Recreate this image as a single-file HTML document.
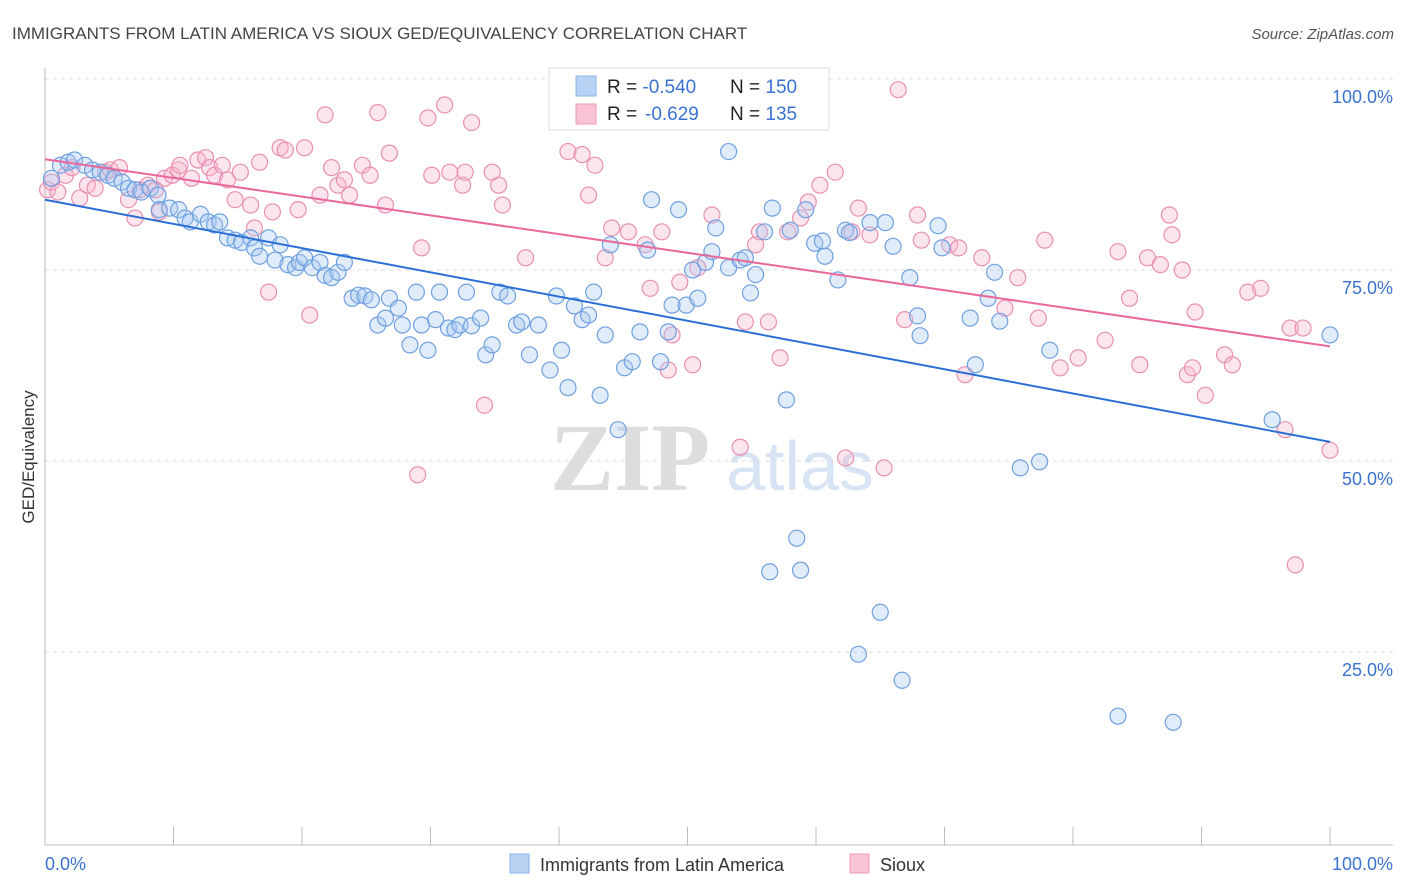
<!DOCTYPE html>
<html><head><meta charset="utf-8"><style>
body{margin:0;background:#fff;font-family:"Liberation Sans",sans-serif;}
svg{display:block}
</style></head><body>
<svg id="chart" width="1406" height="892">
<text x="12" y="39" font-size="17" fill="#444">IMMIGRANTS FROM LATIN AMERICA VS SIOUX GED/EQUIVALENCY CORRELATION CHART</text>
<text x="1394" y="39" font-size="15" fill="#555" font-style="italic" text-anchor="end">Source: ZipAtlas.com</text>
<text x="34" y="457" font-size="17" fill="#333" text-anchor="middle" transform="rotate(-90 34 457)">GED/Equivalency</text>
<g>
<text x="630" y="490" font-size="96" fill="#ddd" text-anchor="middle" font-family="Liberation Serif,serif" font-weight="bold">ZIP</text>
<text x="800" y="490" font-size="70" fill="#d6e4f4" text-anchor="middle">atlas</text>
</g>
<g id="grid"></g>
<g id="axes"></g>
<g id="pts"></g>
<g id="lines"></g>
<g>
<rect x="549" y="68" width="280" height="62" fill="#fff" stroke="#ddd"/>
<rect x="576" y="76" width="20" height="20" fill="#b8d2f4" stroke="#8ab4ea"/>
<rect x="576" y="104" width="20" height="20" fill="#f8c4d4" stroke="#ee9ab6"/>
<text x="607" y="93" font-size="19" fill="#222">R = <tspan fill="#3a72d0">-0.540</tspan><tspan x="730">N = </tspan><tspan fill="#3a72d0">150</tspan></text>
<text x="607" y="120" font-size="19" fill="#222">R = <tspan x="645" fill="#3a72d0">-0.629</tspan><tspan x="730">N = </tspan><tspan fill="#3a72d0">135</tspan></text>
</g>
<g>
<rect x="510" y="854" width="19" height="19" fill="#b8d2f4" stroke="#8ab4ea"/>
<text x="540" y="871" font-size="18" fill="#333">Immigrants from Latin America</text>
<rect x="850" y="854" width="19" height="19" fill="#f8c4d4" stroke="#ee9ab6"/>
<text x="880" y="871" font-size="18" fill="#333">Sioux</text>
</g>
</svg>
<script>
const blueX=[0.5,1.2,1.8,2.3,3.1,3.7,4.3,4.9,5.4,6.0,6.5,7.0,7.5,8.2,8.8,8.9,9.7,10.4,10.9,11.3,12.1,12.7,13.2,13.6,14.2,14.8,15.3,16.0,16.3,16.7,17.4,17.9,18.3,18.9,19.5,19.8,20.2,20.8,21.4,21.8,22.3,22.8,23.3,23.9,24.4,24.9,25.4,25.9,26.5,26.8,27.5,27.8,28.4,28.9,29.3,29.8,30.4,30.7,31.4,31.9,32.3,32.8,33.2,33.9,34.3,34.8,35.4,36.0,36.7,37.1,37.7,38.4,39.3,39.8,40.2,40.7,41.2,41.8,42.3,42.7,43.2,43.6,44.0,44.6,45.1,45.7,46.3,46.9,47.2,47.9,48.5,48.8,49.3,49.9,50.4,50.8,51.4,51.9,52.2,53.2,54.1,54.5,54.9,55.3,56.0,56.6,57.7,58.0,58.5,58.8,59.2,59.9,60.5,60.7,61.7,62.3,62.6,63.3,64.2,65.0,65.4,66.0,66.7,67.3,67.9,68.1,69.5,69.8,72.0,72.4,73.4,73.9,74.3,75.9,77.4,78.2,83.5,87.8,95.5,100.0,53.2,56.4];
const blueY=[87.0,88.7,89.1,89.4,88.7,88.1,87.8,87.4,87.0,86.5,85.7,85.5,85.2,85.7,84.8,82.9,83.1,82.9,81.8,81.3,82.3,81.3,80.9,81.3,79.2,78.9,78.6,79.2,77.9,76.8,79.2,76.3,78.3,75.7,75.3,76.0,76.6,75.3,76.0,74.3,74.0,74.7,76.0,71.3,71.7,71.6,71.1,67.8,68.7,71.3,70.0,67.8,65.2,72.1,67.8,64.5,68.5,72.1,67.4,67.2,67.8,72.1,67.7,68.7,63.9,65.2,72.1,71.6,67.8,68.2,63.9,67.8,61.9,71.6,64.5,59.6,70.3,68.5,69.1,72.1,58.6,66.5,78.3,54.1,62.2,63.0,66.9,77.6,84.2,63.0,66.9,70.4,82.9,70.4,75.0,71.3,76.0,77.4,80.5,75.3,76.3,76.6,72.0,74.4,80.0,83.1,58.0,80.2,39.9,35.7,82.9,78.5,78.8,76.8,73.7,80.2,79.9,24.7,81.2,30.2,81.2,78.1,21.3,74.0,69.0,66.4,80.8,77.9,68.7,62.6,71.3,74.7,68.3,49.1,49.9,64.5,16.6,15.8,55.4,66.5,90.5,35.5];
const pinkX=[0.2,0.5,1.0,1.6,2.1,2.7,3.3,3.9,4.7,5.1,5.8,6.5,7.0,7.4,8.0,8.6,8.9,9.3,9.9,10.4,10.5,11.4,11.9,12.5,12.8,13.2,13.8,14.2,14.8,15.2,16.0,16.3,16.7,17.4,17.7,18.3,18.7,19.7,20.2,20.6,21.4,21.8,22.3,22.8,23.3,23.7,24.7,25.3,25.9,26.5,26.8,29.3,29.8,29.0,30.1,31.1,31.5,32.5,32.7,33.2,34.2,34.8,35.3,35.6,37.4,40.7,41.8,42.3,42.8,43.6,44.1,45.4,46.7,47.1,48.0,48.5,48.8,49.4,50.4,50.8,51.9,54.1,54.5,55.3,55.6,56.3,57.2,57.8,58.8,59.4,60.3,61.5,62.3,62.8,63.3,64.2,65.3,66.4,66.9,67.9,68.2,70.4,71.1,71.6,72.9,74.7,75.7,77.3,77.8,79.0,80.4,82.5,83.5,84.4,85.2,85.8,86.8,87.5,87.7,88.5,88.9,89.3,89.5,90.3,91.8,92.4,93.6,94.6,96.5,96.9,97.3,97.9,100.0];
const pinkY=[85.5,86.5,85.2,87.4,88.4,84.4,86.1,85.7,87.8,88.1,88.4,84.2,81.8,85.5,86.1,85.5,82.6,87.0,87.4,88.1,88.7,87.0,89.4,89.7,88.4,87.4,88.7,86.8,84.2,87.8,83.5,80.5,89.1,72.1,82.6,91.0,90.7,82.9,91.0,69.1,84.8,95.3,88.4,86.1,86.8,84.8,88.7,87.4,95.6,83.5,90.3,77.9,94.9,48.2,87.4,96.6,87.8,86.1,87.8,94.3,57.3,87.8,86.1,83.5,76.6,90.5,90.1,84.8,88.7,76.6,80.5,80.0,78.3,72.6,80.0,61.9,66.5,73.4,62.6,75.3,82.2,51.8,68.2,78.3,80.0,68.2,63.5,80.0,81.8,83.9,86.1,87.8,50.4,80.0,83.1,79.6,49.1,98.6,68.5,82.2,78.9,78.3,77.9,61.3,76.6,70.0,74.0,68.7,78.9,62.2,63.5,65.8,77.4,71.3,62.6,76.6,75.7,82.2,79.6,75.0,61.3,62.2,69.5,58.6,63.9,62.6,72.1,72.6,54.1,67.4,36.4,67.4,51.4];
const trendBlue=[84.2,52.5];
const trendPink=[89.5,65.0];
const yTicks=[100,75,50,25];
const yTickLabels=["100.0%","75.0%","50.0%","25.0%"];
const xTicks=[0,10,20,30,40,50,60,70,80,90,100];

const NS="http://www.w3.org/2000/svg";
const X0=45,X1=1330,Y0=843,Y100=79;
const sx=v=>X0+(X1-X0)*v/100;
const sy=v=>Y0-(Y0-Y100)*v/100;
function mk(tag,attrs,parent){const e=document.createElementNS(NS,tag);for(const k in attrs)e.setAttribute(k,attrs[k]);parent.appendChild(e);return e;}
const grid=document.getElementById('grid'),axes=document.getElementById('axes'),pts=document.getElementById('pts'),lines=document.getElementById('lines');
yTicks.forEach((t,i)=>{
  const l=mk('line',{x1:X0,x2:1393,y1:sy(t),y2:sy(t),stroke:'#ddd','stroke-dasharray':'4,4'},grid);
  
  
  const tx=mk('text',{x:1393,y:sy(t)+24,'font-size':18,fill:'#3a72d0','text-anchor':'end'},axes);
  tx.textContent=yTickLabels[i];
  
  
});
const ax=mk('line',{x1:X0,x2:X0,y1:68,y2:845,stroke:'#bbb'},axes);


const bx=mk('line',{x1:X0,x2:1393,y1:845,y2:845,stroke:'#bbb'},axes);


xTicks.forEach(t=>{
  const l=mk('line',{x1:sx(t),x2:sx(t),y1:827,y2:845,stroke:'#bbb'},axes);
  
  
});
const xl0=mk('text',{x:45,y:870,'font-size':18,fill:'#3a72d0'},axes);xl0.textContent='0.0%';


const xl1=mk('text',{x:1393,y:870,'font-size':18,fill:'#3a72d0','text-anchor':'end'},axes);xl1.textContent='100.0%';


function drawPts(xs,ys,fill,stroke,name){
  xs.forEach((x,i)=>{
    const c=mk('circle',{cx:sx(x),cy:sy(ys[i]),r:8,fill:fill,'fill-opacity':0.35,stroke:stroke,'stroke-width':1.2},pts);
    
    
  });
}
drawPts(pinkX,pinkY,'#f6b4ca','#ea8fb0','sioux-point');
drawPts(blueX,blueY,'#a9c8f2','#6ea0e2','latin-america-point');
const lb=mk('line',{x1:sx(0),y1:sy(trendBlue[0]),x2:sx(100),y2:sy(trendBlue[1]),stroke:'#2a6fd6','stroke-width':2},lines);


const lp=mk('line',{x1:sx(0),y1:sy(trendPink[0]),x2:sx(100),y2:sy(trendPink[1]),stroke:'#e8699a','stroke-width':2},lines);


</script>
</body></html>
